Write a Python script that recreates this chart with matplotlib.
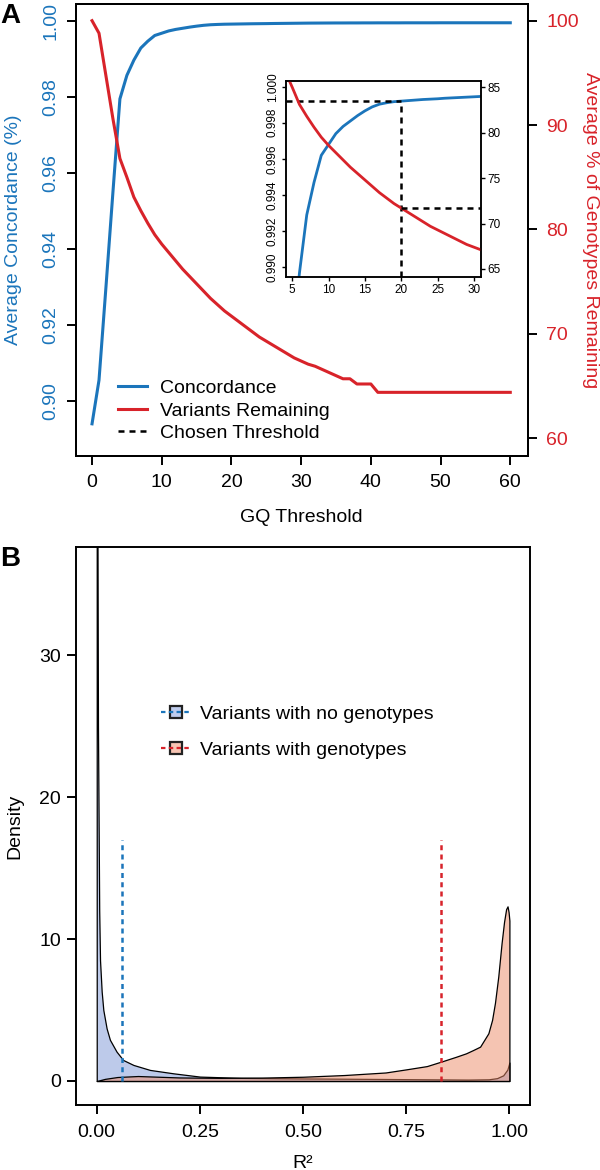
import matplotlib
matplotlib.use('Agg')
import matplotlib.pyplot as plt
from matplotlib.lines import Line2D

plt.rcParams['font.family'] = ['Liberation Sans', 'DejaVu Sans']

# ---------------- data: panel A ----------------
gq = list(range(0, 61))
concordance = [0.8939, 0.9054, 0.9300, 0.9550, 0.9795, 0.9857, 0.9897, 0.9929, 0.9947, 0.9962,
               0.9968, 0.9974, 0.9978, 0.9981, 0.9984, 0.99866, 0.99888, 0.99903, 0.99911, 0.99917,
               0.99920, 0.99923, 0.99926, 0.99929, 0.99931, 0.99933, 0.99936, 0.99938, 0.99940, 0.99942,
               0.99944, 0.99946, 0.99947, 0.99948, 0.99949, 0.99950, 0.99950, 0.99951, 0.99951, 0.99952,
               0.99952, 0.99953, 0.99953, 0.99953, 0.99953, 0.99954, 0.99954, 0.99954, 0.99954, 0.99954,
               0.99955, 0.99955, 0.99955, 0.99955, 0.99955, 0.99955, 0.99955, 0.99955, 0.99955, 0.99955,
               0.99955]
remaining = [100.0, 98.8, 94.7, 90.6, 86.8, 85.0, 83.1, 81.8, 80.6, 79.5,
             78.6, 77.8, 77.0, 76.2, 75.5, 74.8, 74.1, 73.4, 72.8, 72.2,
             71.7, 71.2, 70.7, 70.2, 69.7, 69.3, 68.9, 68.5, 68.1, 67.7,
             67.4, 67.1, 66.9, 66.6, 66.3, 66.0, 65.7, 65.7, 65.2, 65.2,
             65.2, 64.4, 64.4, 64.4, 64.4, 64.4, 64.4, 64.4, 64.4, 64.4,
             64.4, 64.4, 64.4, 64.4, 64.4, 64.4, 64.4, 64.4, 64.4, 64.4,
             64.4]
chosen_threshold = 20
a_series_labels = ['Concordance', 'Variants Remaining', 'Chosen Threshold']

# ---------------- data: panel B ----------------
r2_nogeno = [0.0, 0.003, 0.006, 0.008, 0.012, 0.016, 0.024, 0.032, 0.048, 0.064,
             0.089, 0.129, 0.186, 0.25, 0.35, 0.5, 0.65, 0.8, 0.9, 0.95,
             0.97, 0.985, 0.995, 1.0]
dens_nogeno = [60.0, 25.0, 12.0, 8.5, 6.3, 5.0, 3.7, 2.9, 2.07, 1.48,
               1.13, 0.78, 0.54, 0.31, 0.22, 0.18, 0.15, 0.12, 0.10, 0.12,
               0.20, 0.40, 0.80, 1.30]
r2_geno = [0.0, 0.02, 0.05, 0.1, 0.15, 0.2, 0.3, 0.4, 0.5, 0.6,
           0.7, 0.75, 0.8, 0.834, 0.87, 0.895, 0.912, 0.929, 0.949, 0.958,
           0.965, 0.973, 0.981, 0.987, 0.992, 0.9955, 0.998, 1.0]
dens_geno = [0.0, 0.15, 0.28, 0.35, 0.30, 0.25, 0.22, 0.24, 0.30, 0.42,
             0.60, 0.82, 1.05, 1.36, 1.70, 1.95, 2.18, 2.42, 3.36, 4.30,
             5.50, 7.35, 9.70, 11.2, 12.1, 12.3, 11.9, 11.3]
mean_r2 = [0.062, 0.834]
mean_line_top = 17.0
b_series_labels = ['Variants with no genotypes', 'Variants with genotypes']

# ---------------- styles ----------------
BLUE = '#1b75bb'
RED = '#d8232a'
FILL_BLUE = (0.49, 0.59, 0.84, 0.5)
FILL_RED = (0.93, 0.54, 0.40, 0.5)
FS = 14
SPW = 1.4
DASH = (0, (2.4, 2.0))

fig = plt.figure(figsize=(6, 11.7), dpi=100)

def style_spines(ax, lw):
    for s in ax.spines.values():
        s.set_linewidth(lw)

# ---------------- Panel A main ----------------
axA = fig.add_axes([0.1262, 0.6105, 0.7533, 0.3861])
axA.plot(gq, concordance, color=BLUE, lw=2.2)
axA.set_xlim(-2.34, 62.5)
axA.set_ylim(0.8855, 1.0045)
axA.set_xticks(range(0, 61, 10))
yt = [0.90, 0.92, 0.94, 0.96, 0.98, 1.00]
axA.set_yticks(yt)
axA.set_yticklabels(['%.2f' % v for v in yt])
axA.tick_params(axis='both', direction='out', length=6.5, width=SPW, labelsize=FS)
axA.tick_params(axis='x', pad=7)
axA.tick_params(axis='y', labelcolor=BLUE, pad=5)
for lab in axA.get_yticklabels():
    lab.set_rotation(90)
    lab.set_va('center')
style_spines(axA, SPW)

axA2 = axA.twinx()
axA2.plot(gq, remaining, color=RED, lw=2.2)
axA2.set_ylim(58.33, 101.6)
axA2.set_yticks([60, 70, 80, 90, 100])
axA2.tick_params(axis='y', direction='out', length=6.5, width=SPW, labelsize=FS,
                 labelcolor=RED, pad=7)
style_spines(axA2, SPW)

handlesA = [Line2D([], [], color=BLUE, lw=2.2),
            Line2D([], [], color=RED, lw=2.2),
            Line2D([], [], color='black', lw=1.8, linestyle=DASH)]
legA = axA2.legend(handlesA, a_series_labels, loc='center left',
                   bbox_to_anchor=(118 / 600, 1 - 410.7 / 1170),
                   bbox_transform=fig.transFigure, frameon=False, fontsize=FS,
                   handlelength=1.5, handletextpad=0.65, labelspacing=0.26,
                   borderpad=0, borderaxespad=0)

# ---------------- Panel A inset ----------------
axI = fig.add_axes([0.476, 0.7635, 0.3255, 0.1673])
axI.set_facecolor('white')
axI.plot(gq, concordance, color=BLUE, lw=2.0)
axI.set_xlim(4.09, 30.96)
axI.set_ylim(0.98948, 1.000316)
axI.set_xticks([5, 10, 15, 20, 25, 30])
yti = [0.990, 0.992, 0.994, 0.996, 0.998, 1.000]
axI.set_yticks(yti)
axI.set_yticklabels(['%.3f' % v for v in yti])
axI.tick_params(axis='both', direction='out', length=3, width=1.0, labelsize=8.5, pad=2)
for lab in axI.get_yticklabels():
    lab.set_rotation(90)
    lab.set_va('center')
style_spines(axI, 1.1)

axI2 = axI.twinx()
axI2.plot(gq, remaining, color=RED, lw=2.0)
axI2.set_ylim(64.15, 85.69)
axI2.set_yticks([65, 70, 75, 80, 85])
axI2.tick_params(axis='y', direction='out', length=3, width=1.0, labelsize=8.5, pad=2)
style_spines(axI2, 1.1)

ti = gq.index(chosen_threshold)
x0, x1 = axI.get_xlim()
yb, yt_top = axI.get_ylim()
axI.plot([x0, chosen_threshold], [concordance[ti]] * 2, color='black', lw=1.8, linestyle=DASH)
axI.plot([chosen_threshold] * 2, [yb, concordance[ti]], color='black', lw=1.8, linestyle=DASH)
axI2.plot([chosen_threshold, x1], [remaining[ti]] * 2, color='black', lw=1.8, linestyle=DASH)
axI.set_xlim(x0, x1)
axI.set_ylim(yb, yt_top)
axI2.set_xlim(x0, x1)

# ---------------- Panel B ----------------
axB = fig.add_axes([0.1262, 0.05556, 0.7572, 0.4767])
axB.fill_between(r2_nogeno, dens_nogeno, 0, facecolor=FILL_BLUE, edgecolor='black', lw=0.9)
axB.fill_between(r2_geno, dens_geno, 0, facecolor=FILL_RED, edgecolor='black', lw=0.9)
axB.plot([mean_r2[0]] * 2, [0, mean_line_top], color=BLUE, lw=1.8, linestyle=(0, (2.0, 1.7)))
axB.plot([mean_r2[1]] * 2, [0, mean_line_top], color=RED, lw=1.8, linestyle=(0, (2.0, 1.7)))
axB.set_xlim(-0.0509, 1.050)
axB.set_ylim(-1.69, 37.59)
xtb = [0.0, 0.25, 0.5, 0.75, 1.0]
axB.set_xticks(xtb)
axB.set_xticklabels(['%.2f' % v for v in xtb])
axB.set_yticks([0, 10, 20, 30])
axB.tick_params(axis='both', direction='out', length=6.5, width=SPW, labelsize=FS)
axB.tick_params(axis='x', pad=7)
axB.tick_params(axis='y', pad=4)
style_spines(axB, SPW)

hb1 = (Line2D([], [], linestyle='none', marker='s', markersize=9, markerfacecolor=(0.75, 0.80, 0.93),
              markeredgecolor='#222222', markeredgewidth=1.6),
       Line2D([], [], color=BLUE, lw=1.6, linestyle=(0, (2.0, 1.5))))
hb2 = (Line2D([], [], linestyle='none', marker='s', markersize=9, markerfacecolor=(0.97, 0.77, 0.70),
              markeredgecolor='#222222', markeredgewidth=1.6),
       Line2D([], [], color=RED, lw=1.6, linestyle=(0, (2.0, 1.5))))
legB = axB.legend([hb1, hb2], b_series_labels, loc='center left',
                  bbox_to_anchor=(161 / 600, 1 - 732.3 / 1170),
                  bbox_transform=fig.transFigure, frameon=False, fontsize=FS,
                  handlelength=1.55, handletextpad=0.45, labelspacing=0.95,
                  borderpad=0, borderaxespad=0, numpoints=1)

# ---------------- labels ----------------
fig.text(0.0, 1 - 3 / 1170, 'A', fontsize=20, fontweight='bold', ha='left', va='top')
fig.text(0.0, 1 - 546 / 1170, 'B', fontsize=20, fontweight='bold', ha='left', va='top')
fig.text(14 / 600, 1 - 230 / 1170, 'Average Concordance (%)', rotation=90, color=BLUE,
         fontsize=FS, ha='center', va='center')
fig.text(591 / 600, 1 - 230 / 1170, 'Average % of Genotypes Remaining', rotation=270, color=RED,
         fontsize=FS, ha='center', va='center')
fig.text(301 / 600, 1 - 521.5 / 1170, 'GQ Threshold', fontsize=FS, ha='center', va='baseline')
fig.text(15 / 600, 1 - 826 / 1170, 'Density', rotation=90, fontsize=FS, ha='center', va='center')
fig.text(302.8 / 600, 1 - 1167.5 / 1170, 'R²', fontsize=FS, ha='center', va='baseline')

fig.savefig('out.png', dpi=100)
